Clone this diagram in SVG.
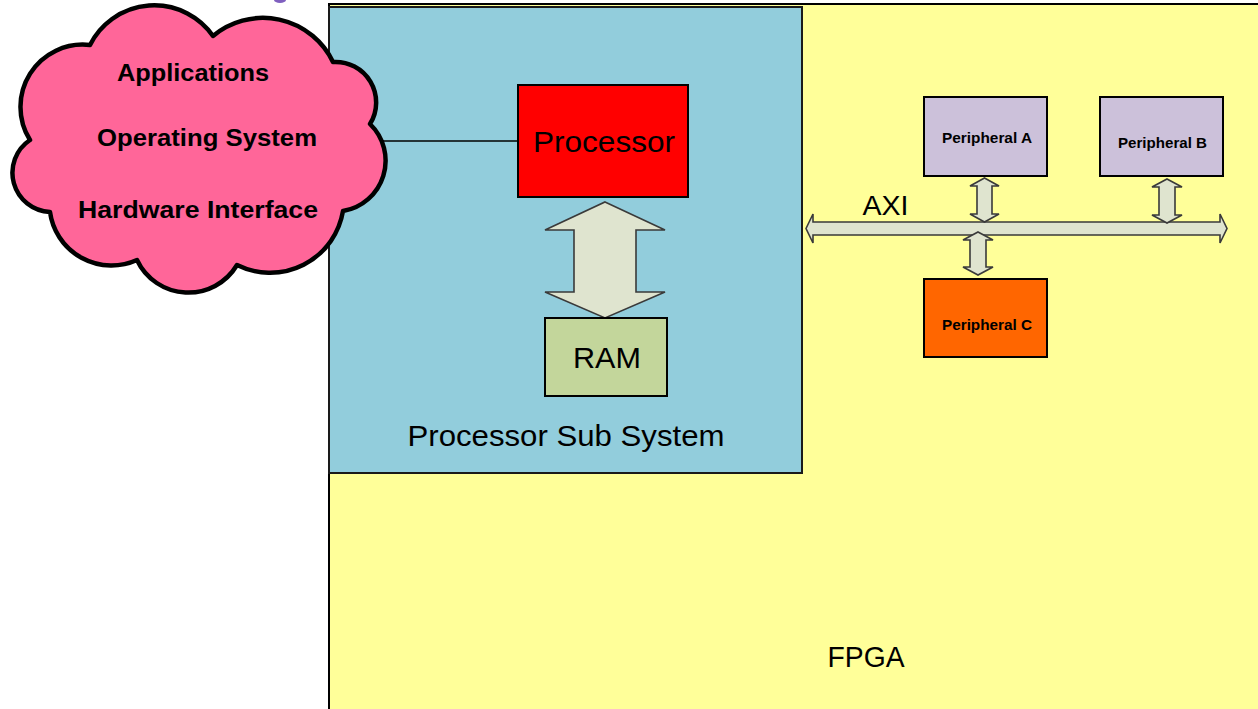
<svg xmlns="http://www.w3.org/2000/svg" width="1258" height="709" viewBox="0 0 1258 709">
<style>
.t{font-family:"Liberation Sans",Arial,sans-serif;fill:#000}
.b{font-weight:bold}
.box{stroke:#000;stroke-width:2}
.arr{fill:#DFE4CF;stroke:#3A3A3A;stroke-width:1.6;stroke-linejoin:miter}
</style>
<rect x="0" y="0" width="1258" height="709" fill="#FFFFFF"/>
<ellipse cx="280" cy="0" rx="6" ry="3" fill="#7F5FBF"/>
<g id="fpga">
<rect x="329" y="4" width="940" height="720" fill="#FFFF99" stroke="#000" stroke-width="2"/>
<text class="t" x="866" y="667" font-size="29" text-anchor="middle" textLength="77" lengthAdjust="spacingAndGlyphs">FPGA</text>
</g>
<g id="pss">
<rect x="329" y="7" width="473" height="466" fill="#92CDDC" stroke="#1a1a1a" stroke-width="2"/>
<text class="t" x="566" y="446" font-size="29" text-anchor="middle" textLength="317" lengthAdjust="spacingAndGlyphs">Processor Sub System</text>
</g>
<g id="connectors">
<line x1="380" y1="141" x2="518" y2="141" stroke="#000" stroke-width="1.5"/>
<path class="arr" d="M605,202 L665,230 L636,230 L636,292 L665,292 L605,318 L545,292 L574,292 L574,230 L545,230 Z"/>
<path class="arr" d="M806,228.5 L813,214 L813,222 L1220,222 L1220,214 L1227,228.5 L1220,243 L1220,235 L813,235 L813,243 Z"/>
<path class="arr" d="M984.5,178 L999,186 L992,186 L992,214 L999,214 L984.5,222 L970,214 L977,214 L977,186 L970,186 Z"/>
<path class="arr" d="M1167,179 L1182,187 L1175,187 L1175,215 L1182,215 L1167,223 L1152,215 L1159,215 L1159,187 L1152,187 Z"/>
<path class="arr" d="M978,232 L993,240 L986,240 L986,267 L993,267 L978,275 L963,267 L970,267 L970,240 L963,240 Z"/>
<text class="t" x="885.5" y="215" font-size="28" text-anchor="middle" textLength="46" lengthAdjust="spacingAndGlyphs">AXI</text>
</g>
<g id="cloud">
<path d="M90,45 A71.8,71.8 0 0 1 213,36 A77.8,77.8 0 0 1 333,62 A40.6,40.6 0 0 1 370,124 A51,51 0 0 1 343,211 A74,74 0 0 1 237,265 A56.7,56.7 0 0 1 137,260 A62,62 0 0 1 50,212 A39.3,39.3 0 0 1 30,140 A62.3,62.3 0 0 1 90,45 Z" fill="#FF6699" stroke="#000" stroke-width="4.5" stroke-linejoin="round"/>
<text class="t b" x="193" y="81" font-size="23" text-anchor="middle" textLength="152" lengthAdjust="spacingAndGlyphs">Applications</text>
<text class="t b" x="207" y="146" font-size="23" text-anchor="middle" textLength="220" lengthAdjust="spacingAndGlyphs">Operating System</text>
<text class="t b" x="198" y="218" font-size="23" text-anchor="middle" textLength="240" lengthAdjust="spacingAndGlyphs">Hardware Interface</text>
</g>
<g id="processor">
<rect class="box" x="518" y="85" width="170" height="112" fill="#FF0000"/>
<text class="t" x="604" y="152" font-size="29" text-anchor="middle" textLength="142" lengthAdjust="spacingAndGlyphs">Processor</text>
</g>
<g id="ram">
<rect class="box" x="545" y="318" width="122" height="78" fill="#C3D69B"/>
<text class="t" x="607" y="368" font-size="29" text-anchor="middle" textLength="68" lengthAdjust="spacingAndGlyphs">RAM</text>
</g>
<g id="periphA">
<rect class="box" x="924" y="97" width="123" height="79" fill="#CCC1DA"/>
<text class="t b" x="987" y="143" font-size="15" text-anchor="middle" textLength="90" lengthAdjust="spacingAndGlyphs">Peripheral A</text>
</g>
<g id="periphB">
<rect class="box" x="1100" y="97" width="123" height="79" fill="#CCC1DA"/>
<text class="t b" x="1162.5" y="148" font-size="15" text-anchor="middle" textLength="89" lengthAdjust="spacingAndGlyphs">Peripheral B</text>
</g>
<g id="periphC">
<rect class="box" x="924" y="279" width="123" height="78" fill="#FF6600"/>
<text class="t b" x="987" y="330" font-size="15" text-anchor="middle" textLength="90" lengthAdjust="spacingAndGlyphs">Peripheral C</text>
</g>
</svg>
